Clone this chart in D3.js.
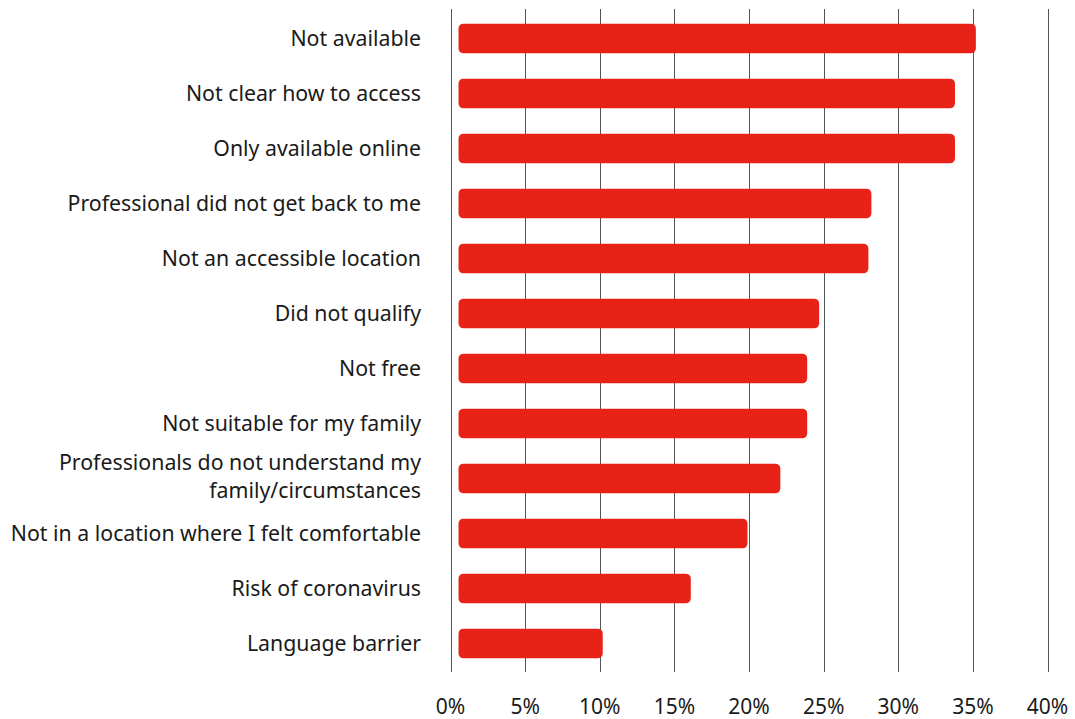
<!DOCTYPE html>
<html lang="en">
<head>
<meta charset="UTF-8">
<title>Barriers bar chart</title>
<script src="https://d3js.org/d3.v7.min.js"></script>
<style>
    body { margin: 0; background: #fff; }
    text { font-family: "Noto Sans", "Open Sans", sans-serif; fill: #1a1a1a; }
</style>
</head>
<body>
<script>
    var categories = [
        "Not available",
        "Not clear how to access",
        "Only available online",
        "Professional did not get back to me",
        "Not an accessible location",
        "Did not qualify",
        "Not free",
        "Not suitable for my family",
        "Professionals do not understand my|family/circumstances",
        "Not in a location where I felt comfortable",
        "Risk of coronavirus",
        "Language barrier"
    ];
    var values = [35.2, 33.8, 33.8, 28.2, 28.0, 24.7, 23.9, 23.9, 22.1, 19.9, 16.1, 10.2];
    var ticks = [0, 5, 10, 15, 20, 25, 30, 35, 40];

    var w = 1075, h = 719;
    var svg = d3.select("body").append("svg").attr("width", w).attr("height", h);

    var x = d3.scaleLinear().domain([0, 40]).range([450.5, 1047.5]);
    var y = d3.scaleBand().domain(categories).range([11, 671]).paddingInner(0.46).paddingOuter(0.23);

    // vertical gridlines
    svg.append("g").selectAll("line")
        .data(ticks)
        .join("line")
        .attr("x1", d => Math.round(x(d)) + 0.5)
        .attr("x2", d => Math.round(x(d)) + 0.5)
        .attr("y1", 9)
        .attr("y2", 672)
        .attr("stroke", "#555")
        .attr("stroke-width", 1);

    // tick labels
    svg.append("g").selectAll("text")
        .data(ticks)
        .join("text")
        .attr("x", d => x(d))
        .attr("y", 714)
        .attr("text-anchor", "middle")
        .attr("font-size", 21)
        .text(d => d + "%");

    // bars
    svg.append("g").selectAll("rect")
        .data(categories)
        .join("rect")
        .attr("x", x(0) + 8)
        .attr("y", d => y(d))
        .attr("width", (d, i) => x(values[i]) - x(0) - 8)
        .attr("height", y.bandwidth())
        .attr("rx", 5)
        .attr("fill", "#e82216");

    // category labels
    var labels = svg.append("g").selectAll("text")
        .data(categories)
        .join("text")
        .attr("text-anchor", "end")
        .attr("font-size", 21.3)
        .attr("x", 421)
        .attr("y", d => y(d) + y.bandwidth() / 2);

    labels.each(function(d) {
        var parts = d.split("|");
        var t = d3.select(this);
        parts.forEach((p, k) => {
            t.append("tspan")
                .attr("x", 421)
                .attr("dy", k === 0 ? (parts.length > 1 ? "-0.42em" : "0.35em") : "1.32em")
                .text(p);
        });
    });
</script>
</body>
</html>
